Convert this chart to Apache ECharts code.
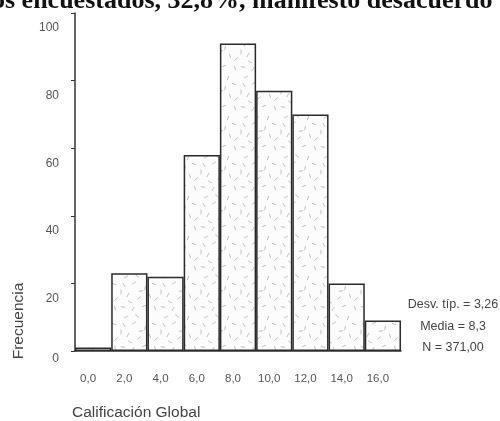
<!DOCTYPE html>
<html>
<head>
<meta charset="utf-8">
<script src="https://cdn.jsdelivr.net/npm/echarts@6/dist/echarts.min.js"></script>
<style>html,body{margin:0;padding:0;background:#fff}#c{width:500px;height:421px}</style>
</head>
<body>
<div id="c"></div>
<script>
const categories = ['0,0','2,0','4,0','6,0','8,0','10,0','12,0','14,0','16,0'];
const frequencies = [1, 23, 22, 58, 91, 77, 70, 20, 9];
const yTicks = [0, 20, 40, 60, 80, 100];
const statsLines = ['Desv. típ. = 3,26', 'Media = 8,3', 'N = 371,00'];
const topText = 'os encuestados, 32,8%, manifestó desacuerdo';
const xTitle = 'Calificación Global';
const yTitle = 'Frecuencia';

// speckle fill pattern (fixed dashes)
const dashes = [
  [4,5,60],[14,3,-30],[25,8,100],[34,4,20],[8,15,-60],[19,18,140],[30,16,70],
  [3,27,10],[13,29,120],[24,26,-20],[35,28,80],[6,37,150],[17,36,40],[28,38,-70],
  [10,22,30],[36,19,-40],[21,11,170],[1,12,90]
];
const pc = document.createElement('canvas');
pc.width = 40; pc.height = 40;
const g = pc.getContext('2d');
g.fillStyle = '#fcfcfc'; g.fillRect(0,0,40,40);
g.strokeStyle = '#c0c0c0'; g.lineWidth = 1;
dashes.forEach(([x,y,a]) => {
  const r = a * Math.PI / 180, l = 2.2;
  g.beginPath();
  g.moveTo(x - Math.cos(r)*l, y - Math.sin(r)*l);
  g.lineTo(x + Math.cos(r)*l, y + Math.sin(r)*l);
  g.stroke();
});

const chart = echarts.init(document.getElementById('c'), null, {renderer:'canvas'});
const font = 'Liberation Sans, Arial, sans-serif';
chart.setOption({
  animation: false,
  backgroundColor: '#fff',
  grid: {left: 75, right: 99, top: 13, bottom: 70, containLabel: false},
  xAxis: {
    type: 'category',
    data: categories,
    boundaryGap: true,
    axisLine: {lineStyle: {color: '#333', width: 1.5}},
    axisTick: {alignWithLabel: true, length: 4, lineStyle: {color: '#333'}},
    axisLabel: {color: '#555', fontFamily: font, fontSize: 11.5, margin: 22, padding: [0,10,0,0]},
    splitLine: {show: false}
  },
  yAxis: {
    type: 'value',
    min: 0, max: 100, interval: 20,
    axisLine: {show: true, lineStyle: {color: '#333', width: 1.5}},
    axisTick: {show: true, length: 4, lineStyle: {color: '#333'}},
    splitLine: {show: false},
    axisLabel: {
      color: '#555', fontFamily: font, fontSize: 12, margin: 16,
      verticalAlign: 'top',
      formatter: v => v === 0 ? '{z|0}' : '{n|' + v + '}',
      rich: {
        n: {color: '#555', fontFamily: font, fontSize: 12, padding: [9,0,0,0]},
        z: {color: '#555', fontFamily: font, fontSize: 12, padding: [2,0,0,0]}
      }
    }
  },
  series: [{
    type: 'bar',
    data: frequencies,
    barWidth: '100%',
    itemStyle: {
      color: {image: pc, repeat: 'repeat'},
      borderColor: '#2a2a2a',
      borderWidth: 1.5
    }
  }],
  graphic: [
    {type: 'text', left: -8, top: -12, style: {text: topText, font: 'bold 26px "Liberation Serif", serif', fill: '#111'}},
    {type: 'text', x: 19, y: 321, rotation: Math.PI/2, style: {text: yTitle, font: '15.5px ' + font, fill: '#444', align: 'center', verticalAlign: 'middle'}},
    {type: 'text', x: 72, y: 413, style: {text: xTitle, font: '15.5px ' + font, fill: '#444', align: 'left', verticalAlign: 'middle'}},
    {type: 'text', x: 453, y: 305, style: {text: statsLines[0], font: '12.5px ' + font, fill: '#444', align: 'center', verticalAlign: 'middle'}},
    {type: 'text', x: 453, y: 327, style: {text: statsLines[1], font: '12.5px ' + font, fill: '#444', align: 'center', verticalAlign: 'middle'}},
    {type: 'text', x: 453, y: 348, style: {text: statsLines[2], font: '12.5px ' + font, fill: '#444', align: 'center', verticalAlign: 'middle'}}
  ]
});
</script>
</body>
</html>
